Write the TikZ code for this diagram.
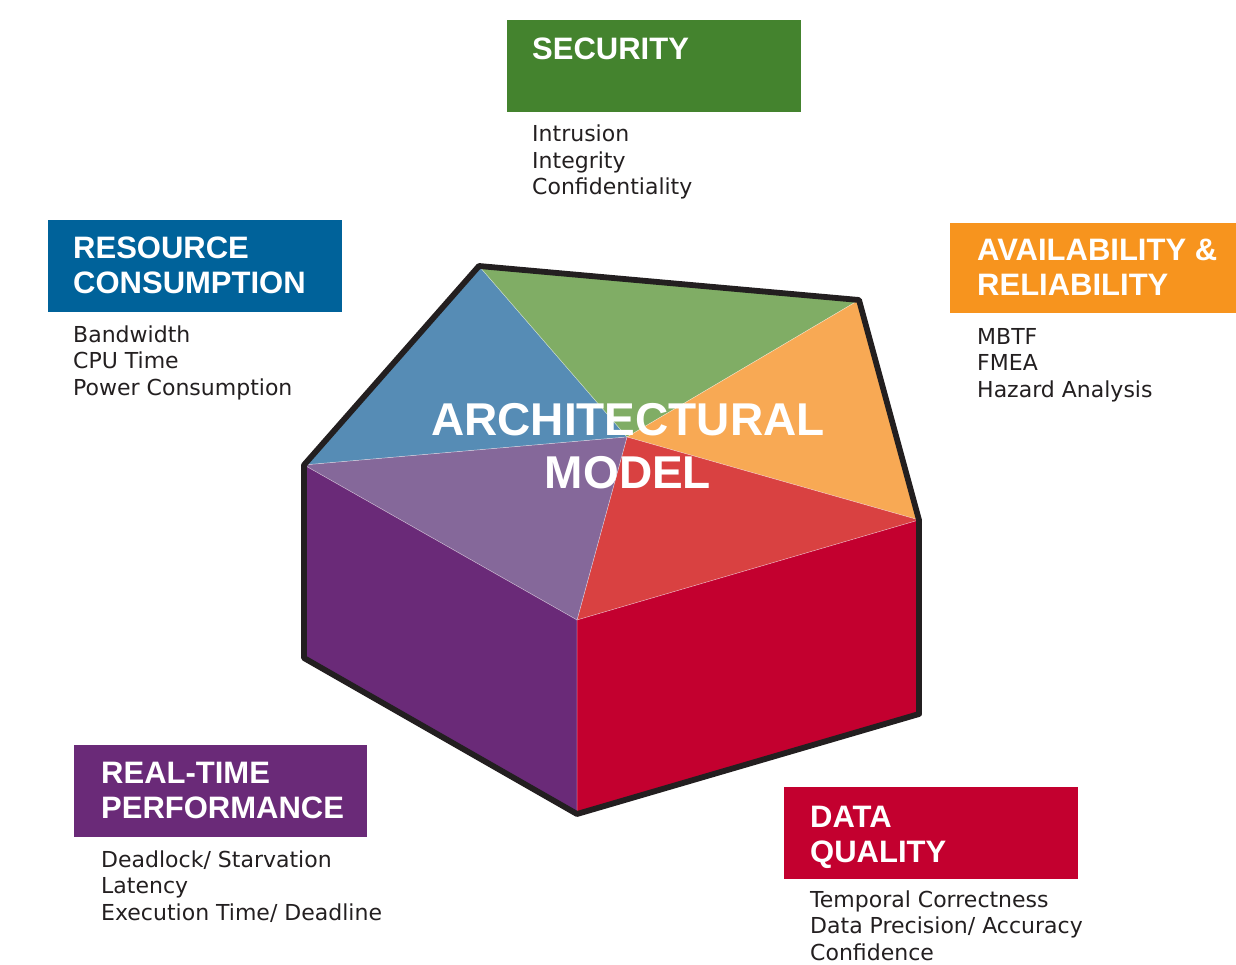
\documentclass[tikz,border=0pt]{standalone}
\usepackage{fontspec}
\setmainfont{Liberation Sans}
\newfontfamily\subfont{DejaVu Sans}
\definecolor{secG}{HTML}{44832E}
\definecolor{resB}{HTML}{00629A}
\definecolor{avaO}{HTML}{F7941E}
\definecolor{rtP}{HTML}{6A2A78}
\definecolor{dqR}{HTML}{C3002F}
\definecolor{fBlue}{HTML}{568CB5}
\definecolor{fGreen}{HTML}{80AD65}
\definecolor{fOrange}{HTML}{F8A954}
\definecolor{fRed}{HTML}{D94141}
\definecolor{fPurple}{HTML}{85689A}
\definecolor{ink}{HTML}{231F20}
\tikzset{
  cattitle/.style={anchor=base west, inner sep=0pt, align=left, text=white,
    font=\fontsize{31}{35}\selectfont\bfseries},
  catlist/.style={anchor=base west, inner sep=0pt, align=left, text=ink,
    font=\subfont\fontsize{22}{26.5}\selectfont},
  face/.style={draw=white, draw opacity=0.45, line width=0.5pt},
}
\begin{document}
\begin{tikzpicture}[x=1pt,y=-1pt]
\useasboundingbox (0,0) rectangle (1236,965);
% key points of the model
\coordinate (peak) at (479,266);
\coordinate (tr) at (859,300);
\coordinate (rt) at (919,520);
\coordinate (br) at (919,714);
\coordinate (bot) at (577,814);
\coordinate (bl) at (304,658);
\coordinate (lf) at (304,465);
\coordinate (ctr) at (627,437);
\coordinate (fr) at (577,620);
% top faces
\fill[fBlue, face] (peak) -- (ctr) -- (lf) -- cycle;
\fill[fGreen, face] (peak) -- (tr) -- (ctr) -- cycle;
\fill[fOrange, face] (tr) -- (rt) -- (ctr) -- cycle;
\fill[fRed, face] (ctr) -- (rt) -- (fr) -- cycle;
\fill[fPurple, face] (lf) -- (ctr) -- (fr) -- cycle;
% front faces
\fill[rtP, face] (lf) -- (fr) -- (bot) -- (bl) -- cycle;
\fill[dqR, face] (fr) -- (rt) -- (br) -- (bot) -- cycle;
% outline
\draw[ink, line width=5.8pt, line join=round, line cap=round]
  (peak) -- (tr) -- (rt) -- (br) -- (bot) -- (bl) -- (lf) -- cycle;
% central title (base anchor = baseline of last line)
\node (model) [anchor=base, inner sep=0pt, align=center, text=white,
  font=\fontsize{46}{53}\selectfont\bfseries] at (628,488) {ARCHITECTURAL\\MODEL};
% security
\fill[secG] (507,20) rectangle (801,112);
\node (secT) [cattitle] at (532,60) {SECURITY};
\node (secL) [catlist] at (532,195) {Intrusion\\Integrity\\Confidentiality};
% resource consumption
\fill[resB] (48,220) rectangle (342,312);
\node (resT) [cattitle] at (73,294) {RESOURCE\\CONSUMPTION};
\node (resL) [catlist] at (73,395) {Bandwidth\\CPU Time\\Power Consumption};
% availability
\fill[avaO] (950,223) rectangle (1236,313);
\node (avaT) [cattitle] at (977,296) {AVAILABILITY \&\\RELIABILITY};
\node (avaL) [catlist] at (977,397) {MBTF\\FMEA\\Hazard Analysis};
% real-time
\fill[rtP] (74,745) rectangle (367,837);
\node (rtT) [cattitle] at (101,818) {REAL-TIME\\PERFORMANCE};
\node (rtL) [catlist] at (101,920) {Deadlock/ Starvation\\Latency\\Execution Time/ Deadline};
% data quality
\fill[dqR] (784,787) rectangle (1078,879);
\node (dqT) [cattitle] at (810,862) {DATA\\QUALITY};
\node (dqL) [catlist] at (810,960) {Temporal Correctness\\Data Precision/ Accuracy\\Confidence};
\end{tikzpicture}
\end{document}
